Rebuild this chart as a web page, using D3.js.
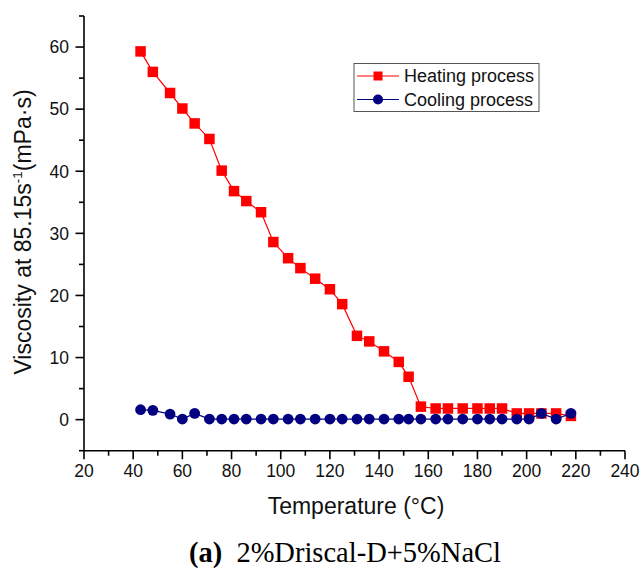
<!DOCTYPE html>
<html><head><meta charset="utf-8">
<script src="https://cdn.jsdelivr.net/npm/d3@7"></script>
<style>html,body{margin:0;padding:0;background:#fff;}svg{display:block;}</style>
</head><body>
<script>
const temps = [43,48,55,60,65,71,76,81,86,92,97,103,108,114,120,125,131,136,142,148,152,157,163,168,174,180,185,190,196,201,206,212,218];
const heating = [59.3,56.0,52.6,50.1,47.7,45.2,40.1,36.8,35.2,33.4,28.6,26.0,24.4,22.7,21.0,18.6,13.5,12.6,11.0,9.3,6.9,2.1,1.8,1.8,1.8,1.8,1.8,1.8,1.0,1.0,1.0,1.0,0.6];
const cooling = [1.6,1.5,0.9,0.1,1.0,0.1,0.1,0.1,0.1,0.1,0.1,0.1,0.1,0.1,0.1,0.1,0.1,0.1,0.1,0.1,0.1,0.1,0.1,0.1,0.1,0.1,0.1,0.1,0.1,0.1,1.0,0.1,1.0];
const xTicks = [20,40,60,80,100,120,140,160,180,200,220,240];
const yTicks = [0,10,20,30,40,50,60];
const seriesNames = ["Heating process","Cooling process"];

const W = 641, H = 568;
const svg = d3.select("body").append("svg").attr("width", W).attr("height", H);
const x = d3.scaleLinear().domain([20,240]).range([84,625]);
const y = d3.scaleLinear().domain([-5,65]).range([450.7,16]);
const font = "'Liberation Sans', Arial, sans-serif";

// axes
const xAxis = svg.append("g").attr("transform","translate(0,450.7)");
xAxis.append("line").attr("x1",x(20)).attr("x2",x(240)).attr("stroke","#000").attr("stroke-width",1.6);
d3.range(20,241,10).forEach(v=>{
  const major = v%20===0;
  xAxis.append("line").attr("x1",x(v)).attr("x2",x(v)).attr("y1",0).attr("y2",major?8.5:5).attr("stroke","#000").attr("stroke-width",1.6);
});
xTicks.forEach(v=>{
  xAxis.append("text").attr("x",x(v)).attr("y",26.5).attr("text-anchor","middle")
    .attr("font-family",font).attr("font-size",17.5).attr("fill","#111").text(v);
});
const yAxis = svg.append("g").attr("transform","translate(84,0)");
yAxis.append("line").attr("y1",y(-5)).attr("y2",y(65)).attr("stroke","#000").attr("stroke-width",1.6);
d3.range(-5,66,5).forEach(v=>{
  const major = v%10===0;
  yAxis.append("line").attr("y1",y(v)).attr("y2",y(v)).attr("x1",0).attr("x2",major?-8.5:-5).attr("stroke","#000").attr("stroke-width",1.6);
});
yTicks.forEach(v=>{
  yAxis.append("text").attr("x",-15).attr("y",y(v)).attr("dy","0.36em").attr("text-anchor","end")
    .attr("font-family",font).attr("font-size",17.5).attr("fill","#111").text(v);
});

// axis titles
svg.append("text").attr("x",356).attr("y",514).attr("text-anchor","middle")
  .attr("font-family",font).attr("font-size",23).attr("fill","#111").text("Temperature (°C)");
const yt = svg.append("text").attr("transform","translate(31,232) rotate(-90)").attr("text-anchor","middle")
  .attr("font-family",font).attr("font-size",23).attr("fill","#111");
yt.append("tspan").text("Viscosity at 85.15s");
yt.append("tspan").attr("font-size",13.5).attr("dy",-9).text("-1");
yt.append("tspan").attr("dy",9).text("(mPa·s)");

// caption
const cap = svg.append("text").attr("x",345).attr("y",562).attr("text-anchor","middle")
  .attr("font-family","'Liberation Serif', 'Times New Roman', serif").attr("font-size",28.5).attr("fill","#000");
cap.append("tspan").attr("font-weight","bold").text("(a)");
cap.append("tspan").attr("dx",7).text(" 2%Driscal-D+5%NaCl");

// lines & markers
const line = d3.line().x(d=>x(d[0])).y(d=>y(d[1]));
const hData = temps.map((t,i)=>[t,heating[i]]);
const cData = temps.map((t,i)=>[t,cooling[i]]);
svg.append("path").datum(hData).attr("d",line).attr("fill","none").attr("stroke","#ff0000").attr("stroke-width",1.2);
const sq = 10.5;
svg.selectAll("rect.h").data(hData).enter().append("rect")
  .attr("x",d=>x(d[0])-sq/2).attr("y",d=>y(d[1])-sq/2).attr("width",sq).attr("height",sq).attr("fill","#ff0000");
svg.append("path").datum(cData).attr("d",line).attr("fill","none").attr("stroke","#000080").attr("stroke-width",1.2);
svg.selectAll("circle.c").data(cData).enter().append("circle")
  .attr("cx",d=>x(d[0])).attr("cy",d=>y(d[1])).attr("r",5.4).attr("fill","#000080");

// legend
const lg = svg.append("g");
lg.append("rect").attr("x",354).attr("y",63.5).attr("width",185).attr("height",48).attr("fill","#fff").attr("stroke","#555").attr("stroke-width",1);
const rows = [{y:76,c:"#ff0000",m:"sq"},{y:99.5,c:"#000080",m:"ci"}];
rows.forEach((r,i)=>{
  lg.append("line").attr("x1",357).attr("x2",399).attr("y1",r.y).attr("y2",r.y).attr("stroke",r.c).attr("stroke-width",1.2);
  if(r.m==="sq") lg.append("rect").attr("x",378-4.5).attr("y",r.y-4.5).attr("width",9).attr("height",9).attr("fill",r.c);
  else lg.append("circle").attr("cx",378).attr("cy",r.y).attr("r",5).attr("fill",r.c);
  lg.append("text").attr("x",404).attr("y",r.y).attr("dy","0.36em").attr("font-family",font).attr("font-size",18).attr("fill","#111").text(seriesNames[i]);
});
</script>
</body></html>
